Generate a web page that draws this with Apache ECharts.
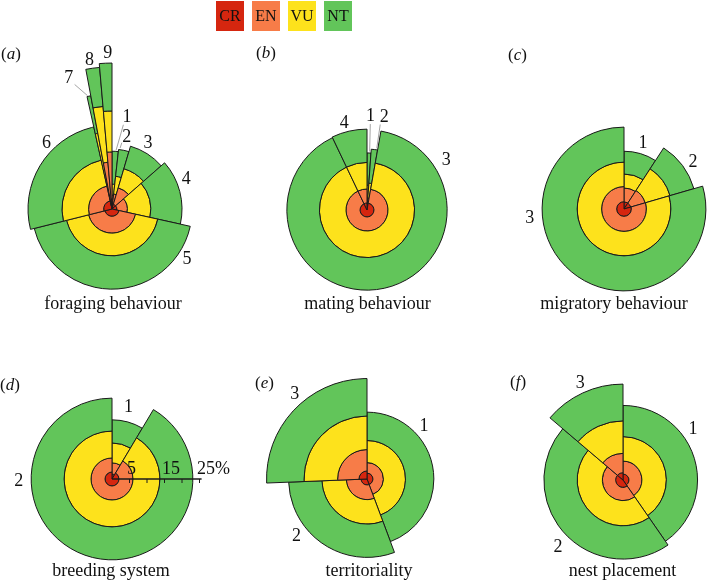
<!DOCTYPE html>
<html><head><meta charset="utf-8">
<script src="https://cdn.jsdelivr.net/npm/echarts@6/dist/echarts.min.js"></script>
<style>html,body{margin:0;padding:0;background:#fff}#chart{width:710px;height:585px}</style>
</head><body><div id="chart"></div>
<script>
// ================= DATA =================
const levels = ['CR', 'EN', 'VU', 'NT'];
const panelTitles = ['foraging behaviour', 'mating behaviour', 'migratory behaviour',
                     'breeding system', 'territoriality', 'nest placement'];
const panelLetters = ['a', 'b', 'c', 'd', 'e', 'f'];

// share of species in each trait category (relative, full circle = total)
const foragingShare      = [1.75, 2.81, 8.97, 14.94, 42.64, 25.42, 0.53, 1.56, 1.39];
const matingShare        = [1.11, 1.67, 90.14, 7.08];
const migratoryShare     = [9.17, 11.33, 79.5];
const breedingShare      = [8.56, 91.44];
const territorialityShare = [44.3, 30.06, 25.64];
const nestShare          = [40.36, 45.86, 13.78];

// % of species in CR, EN, VU, NT for each trait category
const foragingThreat = [
  [1.1, 2.9, 3.1, 9.4], [1.4, 2.9, 5.1, 7.7], [1.4, 4.9, 5.7, 6.7],
  [1.4, 3.0, 6.7, 8.9], [2.1, 4.8, 6.5, 9.5], [2.4, 4.3, 7.6, 9.7],
  [2.3, 7.7, 12.0, 10.9], [2.3, 11.1, 16.0, 11.2], [2.9, 13.4, 11.7, 13.7]
];
const matingThreat = [
  [0.9, 2.5, 3.7, 9.2], [0.9, 2.5, 4.3, 9.7], [2.0, 4.0, 7.6, 9.3], [2.0, 4.0, 7.6, 9.5]
];
const migratoryThreat = [
  [2.0, 4.0, 4.0, 6.5], [2.0, 4.3, 7.4, 7.1], [2.1, 4.3, 7.0, 10.0]
];
const breedingThreat = [
  [1.4, 3.2, 5.7, 6.6], [2.0, 4.0, 7.7, 9.4]
];
const territorialityThreat = [
  [1.7, 3.0, 6.3, 8.1], [1.7, 4.2, 7.0, 9.5], [2.3, 6.1, 9.6, 10.7]
];
const nestThreat = [
  [1.7, 3.7, 7.0, 8.9], [2.1, 3.8, 7.2, 9.5], [2.1, 5.5, 9.3, 10.5]
];

const foragingLabels = ['1', '2', '3', '4', '5', '6', '7', '8', '9'];
const matingLabels = ['1', '2', '3', '4'];
const migratoryLabels = ['1', '2', '3'];
const breedingLabels = ['1', '2'];
const territorialityLabels = ['1', '2', '3'];
const nestLabels = ['1', '2', '3'];

const radialTicks = [5, 10, 15, 20, 25];
const radialTickLabels = ['5', '', '15', '', '25%'];

// ================= LAYOUT / STYLE =================
const K = 3.5;          // px per percent on the radial axis
const RMAX = 50;        // radial axis max (percent)
const levelColors = ['#d5260f', '#f77c48', '#fde21c', '#62c55a'];
const SERIF = 'Liberation Serif';

// label placement: [angle in degrees clockwise from 12 o'clock, distance in px]
const layout = [
  { center: [112, 209],
    labelPos: [[9.3, 93], [11.6, 73], [28.6, 75], [68, 80], [124, 90.5], [315, 92.6], [341.7, 138], [351.4, 150], [358.4, 156]],
    leaders: { 0: [[7.7, 85], [4.0, 59]], 1: [[8.4, 67], [7.6, 61.5]], 6: [[343.3, 130], [347.8, 116]] },
    letterPos: [1, 55], titlePos: [113, 304] },
  { center: [367, 210],
    labelPos: [[2.2, 94], [10.6, 94.3], [58.1, 93.4], [345.3, 89.6]],
    leaders: { 0: [[2.2, 86], [2.6, 58.5]], 1: [[8.8, 86.5], [9.0, 62.5]] },
    letterPos: [256, 54], titlePos: [367.5, 304] },
  { center: [624, 209],
    labelPos: [[16.2, 68], [56, 83.3], [264.5, 94.7]],
    leaders: {},
    letterPos: [508, 55.5], titlePos: [614, 304] },
  { center: [112, 479],
    labelPos: [[13, 73.9], [268.5, 93.4]],
    leaders: {},
    letterPos: [0, 385.5], titlePos: [111, 571] },
  { center: [367, 479],
    labelPos: [[47.3, 77.6], [230.9, 91], [319.4, 111]],
    leaders: {},
    letterPos: [255, 384], titlePos: [369, 571] },
  { center: [623, 480],
    labelPos: [[54, 86.4], [224, 93.6], [336.2, 105.7]],
    leaders: {},
    letterPos: [510, 383], titlePos: [622.5, 571] }
];

const panels = [
  { share: foragingShare, threat: foragingThreat, labels: foragingLabels },
  { share: matingShare, threat: matingThreat, labels: matingLabels },
  { share: migratoryShare, threat: migratoryThreat, labels: migratoryLabels },
  { share: breedingShare, threat: breedingThreat, labels: breedingLabels },
  { share: territorialityShare, threat: territorialityThreat, labels: territorialityLabels },
  { share: nestShare, threat: nestThreat, labels: nestLabels }
];

// ================= BUILD =================
function ringData(share, threat) {
  const total = share.reduce((s, v) => s + v, 0);
  const out = [];
  let a = 0;
  share.forEach((s, i) => {
    let r = 0;
    const a0 = a / total * 100, a1 = (a + s) / total * 100;
    threat[i].forEach((v, lv) => {
      out.push([r, r + v, a0, a1, lv]);
      r += v;
    });
    a += s;
  });
  return out;
}

function renderRing(params, api) {
  const c = api.coord([0, 0]);
  const p0 = api.coord([api.value(0), api.value(2)]);
  const p1 = api.coord([api.value(1), api.value(3)]);
  let t0 = -p0[3], t1 = -p1[3];
  while (t1 <= t0 + 1e-9) t1 += 2 * Math.PI;
  return {
    type: 'sector',
    shape: { cx: c[0], cy: c[1], r0: p0[2], r: p1[2], startAngle: t0, endAngle: t1, clockwise: true },
    style: { fill: levelColors[api.value(4)], stroke: '#1a1a1a', lineWidth: 1 }
  };
}

const degToVal = d => d / 3.6;
const pxToVal = p => p / K;

function txt(text, x, y, align, valign, size, extra) {
  return Object.assign({
    text: text, x: x, y: y, align: align, verticalAlign: valign,
    textAlign: align, textVerticalAlign: valign,
    fontSize: size, fontFamily: SERIF, fill: '#111'
  }, extra || {});
}

const series = [];
panels.forEach((p, i) => {
  series.push({
    type: 'custom', coordinateSystem: 'polar', polarIndex: i, silent: true,
    encode: { radius: [0, 1], angle: [2, 3] },
    data: ringData(p.share, p.threat),
    renderItem: renderRing
  });
  const L = layout[i];
  series.push({
    type: 'custom', coordinateSystem: 'polar', polarIndex: i, silent: true,
    encode: { radius: 0, angle: 1 },
    data: p.labels.map((t, j) => [pxToVal(L.labelPos[j][1]), degToVal(L.labelPos[j][0])]),
    renderItem: function (params, api) {
      const idx = params.dataIndex;
      const pt = api.coord([api.value(0), api.value(1)]);
      const children = [{ type: 'text', style: txt(p.labels[idx], pt[0], pt[1], 'center', 'middle', 18) }];
      const ld = L.leaders[idx];
      if (ld) {
        const q0 = api.coord([pxToVal(ld[0][1]), degToVal(ld[0][0])]);
        const q1 = api.coord([pxToVal(ld[1][1]), degToVal(ld[1][0])]);
        children.push({ type: 'line', shape: { x1: q0[0], y1: q0[1], x2: q1[0], y2: q1[1] },
                        style: { stroke: '#9a9a9a', lineWidth: 0.9 } });
      }
      return { type: 'group', children };
    }
  });
});

// radial scale drawn in panel (d), pointing to 3 o'clock (angle value 25)
series.push({
  type: 'custom', coordinateSystem: 'polar', polarIndex: 3, silent: true,
  encode: { radius: 0, angle: 1 },
  data: [[0, 25]],
  renderItem: function (params, api) {
    const c = api.coord([0, 25]);
    const e = api.coord([radialTicks[radialTicks.length - 1] + 0.6, 25]);
    const children = [{ type: 'line', shape: { x1: c[0], y1: c[1], x2: e[0], y2: e[1] },
                        style: { stroke: '#1a1a1a', lineWidth: 1.3 } }];
    radialTicks.forEach((t, k) => {
      const q = api.coord([t, 25]);
      children.push({ type: 'line', shape: { x1: q[0], y1: q[1], x2: q[0], y2: q[1] + 4 },
                      style: { stroke: '#1a1a1a', lineWidth: 1 } });
      if (radialTickLabels[k]) {
        children.push({ type: 'text', style: txt(radialTickLabels[k], q[0] - 2.5, q[1] - 1, 'left', 'bottom', 18) });
      }
    });
    return { type: 'group', children };
  }
});

// graphic: legend boxes, panel letters, titles
const graphics = [];
const legendX = [216, 252, 288, 324];
levels.forEach((lv, i) => {
  graphics.push({ type: 'rect', left: legendX[i], top: 1, shape: { width: 28, height: 30 },
                  style: { fill: levelColors[i] }, silent: true });
  graphics.push({ type: 'text', x: legendX[i] + 14, y: 16.5, silent: true,
                  style: txt(lv, 0, 0, 'center', 'middle', 16) });
});
layout.forEach((L, i) => {
  graphics.push({ type: 'text', x: L.letterPos[0], y: L.letterPos[1], silent: true,
    style: txt('({i|' + panelLetters[i] + '})', 0, 0, 'left', 'middle', 17,
      { rich: { i: { fontStyle: 'italic', fontSize: 17, fontFamily: SERIF, fill: '#111' } } }) });
  graphics.push({ type: 'text', x: L.titlePos[0], y: L.titlePos[1], silent: true,
    style: txt(panelTitles[i], 0, 0, 'center', 'middle', 18) });
});

const option = {
  backgroundColor: '#ffffff',
  animation: false,
  textStyle: { fontFamily: SERIF },
  polar: layout.map(L => ({ center: L.center, radius: [0, RMAX * K] })),
  angleAxis: layout.map((L, i) => ({ polarIndex: i, type: 'value', min: 0, max: 100, startAngle: 90, clockwise: true,
    show: false, axisLine: { show: false }, axisTick: { show: false }, axisLabel: { show: false }, splitLine: { show: false } })),
  radiusAxis: layout.map((L, i) => ({ polarIndex: i, type: 'value', min: 0, max: RMAX,
    show: false, axisLine: { show: false }, axisTick: { show: false }, axisLabel: { show: false }, splitLine: { show: false } })),
  series: series,
  graphic: { elements: graphics }
};

const chart = echarts.init(document.getElementById('chart'));
chart.setOption(option);
</script>
</body></html>
